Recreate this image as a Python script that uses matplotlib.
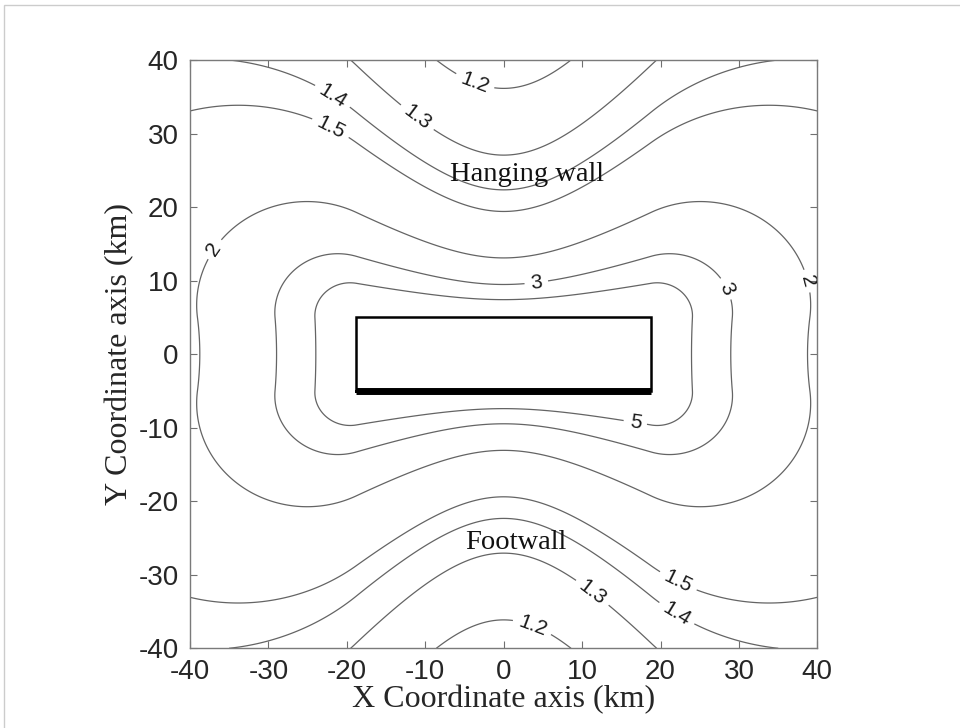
import numpy as np
import matplotlib
matplotlib.use("Agg")
import matplotlib.pyplot as plt
from matplotlib.patches import Rectangle

plt.rcParams["axes.unicode_minus"] = False
plt.rcParams["font.family"] = ["Liberation Sans", "DejaVu Sans"]

# Fault geometry (km): surface projection of the rupture plane and hypocentre depth
fault_x = [-18.8, 18.8]
fault_y = [-5.0, 5.0]
hypo_xy = [0.0, 0.0]
hypo_depth = 9.5

# Contoured ratio levels and region labels
levels = [1.2, 1.3, 1.4, 1.5, 2, 3, 5]
tick_vals = [-40, -30, -20, -10, 0, 10, 20, 30, 40]
region_names = ["Hanging wall", "Footwall"]
region_xy = [(3.0, 23.6), (1.6, -26.5)]

# Hypocentral distance over Joyner-Boore distance on a regular grid
gx = np.linspace(-40, 40, 801)
gy = np.linspace(-40, 40, 801)
X, Y = np.meshgrid(gx, gy)
dx = np.maximum(np.maximum(fault_x[0] - X, X - fault_x[1]), 0.0)
dy = np.maximum(np.maximum(fault_y[0] - Y, Y - fault_y[1]), 0.0)
r_jb = np.hypot(dx, dy)
r_hypo = np.sqrt((X - hypo_xy[0]) ** 2 + (Y - hypo_xy[1]) ** 2 + hypo_depth ** 2)
with np.errstate(divide="ignore", invalid="ignore"):
    ratio = np.where(r_jb > 0, r_hypo / r_jb, np.nan)

fig = plt.figure(figsize=(9.6, 7.28), dpi=100)
ax = fig.add_axes([0.1979, 0.1095, 0.6535, 0.8081])

cs = ax.contour(X, Y, ratio, levels=levels, colors="#646464", linewidths=0.9)

label_spots = [(-3.9, 36.4), (3.7, -36.9),
               (-11.3, 31.8), (11.2, -32.6),
               (-22.1, 34.6), (22.1, -35.2),
               (-22.1, 30.7), (22.1, -31.2),
               (-36.8, 14.2), (38.2, 9.8),
               (4.2, 9.4), (28.0, 8.7),
               (16.8, -9.2)]
ax.clabel(cs, levels, manual=label_spots, fmt="%g", fontsize=15,
          colors="#1a1a1a", inline=True, inline_spacing=6)

# Fault outline, top edge drawn heavy
ax.plot([fault_x[0], fault_x[1], fault_x[1], fault_x[0], fault_x[0]],
        [fault_y[0], fault_y[0], fault_y[1], fault_y[1], fault_y[0]],
        color="black", lw=1.8, solid_joinstyle="miter")
ax.plot(fault_x, [fault_y[0], fault_y[0]], color="black", lw=5.0,
        solid_capstyle="butt")

serif = ["Liberation Serif", "DejaVu Serif"]
for name, (tx, ty) in zip(region_names, region_xy):
    ax.text(tx, ty, name, ha="center", va="baseline", fontsize=20.5,
            family=serif, color="#111111")

ax.set_xlim(-40, 40)
ax.set_ylim(-40, 40)
ax.set_xticks(tick_vals)
ax.set_yticks(tick_vals)
ax.set_xticklabels([str(v) for v in tick_vals])
ax.set_yticklabels([str(v) for v in tick_vals])
ax.tick_params(direction="in", length=5, width=0.8, color="#707070",
               top=True, right=True, labelsize=20, labelcolor="#262626", pad=8)
for sp in ax.spines.values():
    sp.set_color("#7a7a7a")
    sp.set_linewidth(1.0)

ax.set_xlabel("X Coordinate axis (km)", fontsize=23, family=serif, color="#262626")
ax.set_ylabel("Y Coordinate axis (km)", fontsize=23, family=serif, color="#262626")
ax.xaxis.label.set_va("center")
ax.yaxis.label.set_va("center")
ax.xaxis.set_label_coords(0.5, -0.088)
ax.yaxis.set_label_coords(-0.112, 0.5)

# light frame around the figure canvas
fig.patches.append(Rectangle((3.5 / 960, -0.05), 1.1, 1.05 - 5.5 / 728,
                             transform=fig.transFigure, fill=False,
                             edgecolor="#cccccc", lw=1.0))

fig.savefig("out.png", dpi=100)
